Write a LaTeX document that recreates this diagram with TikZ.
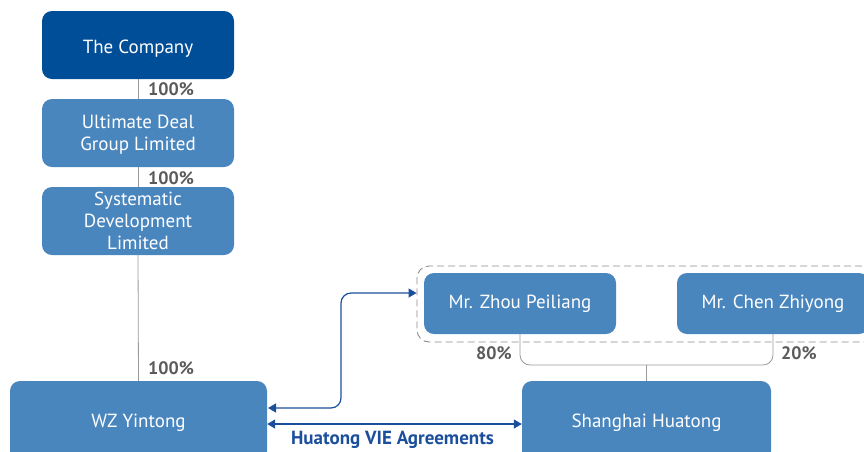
\documentclass[tikz,border=0pt]{standalone}
\usepackage{fontspec}
\setmainfont{PT Sans}
\usetikzlibrary{arrows.meta}
\definecolor{darkblue}{HTML}{014E98}
\definecolor{midblue}{HTML}{4A86BE}
\definecolor{arrblue}{HTML}{1B4F9C}
\definecolor{pctgray}{HTML}{5A5A5A}
\definecolor{linegray}{HTML}{9A9A9A}
\definecolor{dashgray}{HTML}{8C8C8C}
\begin{document}
\begin{tikzpicture}[x=1pt,y=-1pt,
  entity/.style={fill=midblue, rounded corners=10pt, text=white, align=center, font=\fontsize{19}{22}\selectfont, inner sep=0pt},
  topbox/.style={entity, fill=darkblue},
  pct/.style={text=pctgray, font=\fontsize{18}{20}\selectfont\bfseries, inner sep=0pt},
  own/.style={draw=linegray, line width=0.8pt},
  vie/.style={draw=arrblue, line width=1.2pt, {Triangle[length=8pt,width=9pt]}-{Triangle[length=8pt,width=9pt]}}
]
\useasboundingbox (0,0) rectangle (864,451);
\clip (0,0) rectangle (864,451);
\node[topbox, minimum width=192pt, minimum height=68pt] (comp) at (138,45) {};
\node[text=white, font=\fontsize{19}{22}\selectfont, inner sep=0pt] (compt) at (138,49) {The Company};
\node[entity, minimum width=192pt, minimum height=68pt] (ult) at (138,133) {};
\node[text=white, align=center, font=\fontsize{19}{22}\selectfont, inner sep=0pt] (ultt) at (138,135) {Ultimate Deal\\Group Limited};
\node[entity, minimum width=192pt, minimum height=68pt] (sys) at (138,221) {Systematic\\Development\\Limited};
\node[entity, minimum width=257pt, minimum height=80pt] (wz) at (138.5,421) {};
\node[text=white, font=\fontsize{19}{22}\selectfont, inner sep=0pt] (wzt) at (138.5,423) {WZ Yintong};
\node[entity, minimum width=249pt, minimum height=80pt] (sh) at (646.5,421) {};
\node[text=white, font=\fontsize{19}{22}\selectfont, inner sep=0pt] (sht) at (646.5,423) {Shanghai Huatong};
\node[entity, minimum width=192pt, minimum height=61pt] (zhou) at (520,303.5) {Mr. Zhou Peiliang};
\node[entity, minimum width=192pt, minimum height=61pt] (chen) at (773,303.5) {Mr. Chen Zhiyong};
\node[draw=dashgray, line width=0.9pt, dash pattern=on 7pt off 4pt, rounded corners=12pt, minimum width=468pt, minimum height=76pt, inner sep=0pt] (grp) at (651,304) {};

\draw[own] (comp.south) -- (ult.north);
\draw[own] (ult.south) -- (sys.north);
\draw[own] (sys.south) -- (wz.north);
\coordinate (j) at (646.5,365);
\draw[own, rounded corners=10pt] (zhou.south) |- (j) -| (chen.south);
\draw[own] (j) -- (sh.north);

\node[pct] (p1) at (171,89) {100\%};
\node[pct] (p2) at (171,178) {100\%};
\node[pct] (p3) at (171,368) {100\%};
\node[pct] (p4) at (494,353) {80\%};
\node[pct] (p5) at (799,353) {20\%};

\coordinate (a1) at (268,408);
\coordinate (a2) at (341,293);
\draw[vie, rounded corners=10pt] (a1) -| (a2) -- (grp.west |- a2);
\draw[vie] (wz.east |- 0,424) -- (sh.west |- 0,424);
\node[text=arrblue, font=\fontsize{19}{21}\selectfont\bfseries, inner sep=0pt] (lbl) at (392.5,440) {Huatong VIE Agreements};
\end{tikzpicture}
\end{document}
